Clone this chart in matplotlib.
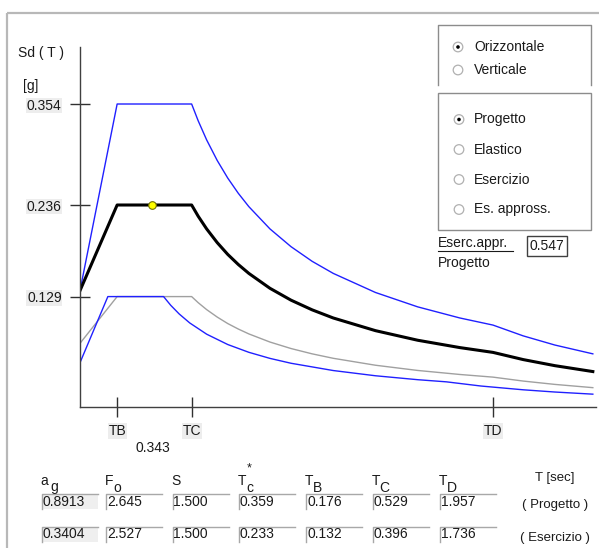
import matplotlib
matplotlib.use('Agg')
import matplotlib.pyplot as plt
from matplotlib.patches import Circle, Rectangle

plt.rcParams['font.family'] = ['Liberation Sans', 'DejaVu Sans']
FS = 10

# ---------------- data ----------------
T_main = [0.0, 0.176, 0.529, 0.56, 0.6, 0.65, 0.7, 0.75, 0.8, 0.9, 1.0, 1.1,
          1.2, 1.4, 1.6, 1.8, 1.957, 2.1, 2.25, 2.43]
Sd_elastic = [0.136, 0.354, 0.354, 0.3344, 0.3121, 0.2881, 0.2675, 0.2497, 0.2341,
              0.2081, 0.1873, 0.1702, 0.1561, 0.1338, 0.1170, 0.1040, 0.0957,
              0.0831, 0.0724, 0.0621]
Sd_design = [0.136, 0.236, 0.236, 0.2229, 0.2081, 0.1921, 0.1783, 0.1665, 0.1561,
             0.1387, 0.1248, 0.1135, 0.1040, 0.0892, 0.0780, 0.0694, 0.0638,
             0.0554, 0.0483, 0.0414]
Sd_approx = [0.0744, 0.129, 0.129, 0.1219, 0.1138, 0.1051, 0.0975, 0.0911, 0.0854,
             0.0759, 0.0683, 0.0621, 0.0569, 0.0488, 0.0427, 0.0380, 0.0349,
             0.0303, 0.0264, 0.0226]
T_service = [0.0, 0.132, 0.396, 0.43, 0.47, 0.52, 0.6, 0.7, 0.8, 0.9, 1.0, 1.2,
             1.4, 1.6, 1.736, 1.9, 2.1, 2.25, 2.43]
Sd_service = [0.0518, 0.129, 0.129, 0.1188, 0.1087, 0.0982, 0.0851, 0.0730, 0.0639,
              0.0568, 0.0511, 0.0426, 0.0365, 0.0319, 0.0294, 0.0245, 0.0201,
              0.0175, 0.0150]

T_point = 0.343
Sd_point = 0.236

y_ticks = [0.354, 0.236, 0.129]
y_tick_labels = ['0.354', '0.236', '0.129']
x_ticks = [0.176, 0.529, 1.957]
x_tick_labels = ['TB', 'TC', 'TD']

param_names = [('a', 'g'), ('F', 'o'), ('S', ''), ('T', 'c'), ('T', 'B'), ('T', 'C'), ('T', 'D')]
row_progetto = ['0.8913', '2.645', '1.500', '0.359', '0.176', '0.529', '1.957']
row_esercizio = ['0.3404', '2.527', '1.500', '0.233', '0.132', '0.396', '1.736']

radio_group1 = ['Orizzontale', 'Verticale']
radio_group2 = ['Progetto', 'Elastico', 'Esercizio', 'Es. appross.']
ratio_value = '0.547'

# ---------------- figure ----------------
W, H = 599, 548
fig = plt.figure(figsize=(W / 100, H / 100), dpi=100)
fig.patch.set_facecolor('white')

bg = fig.add_axes([0, 0, 1, 1])
bg.set_xlim(0, W)
bg.set_ylim(H, 0)
bg.axis('off')

LBL_BG = '#ededed'
TXT = '#1a1a1a'

# outer frame
bg.plot([7, 7], [13, H], color='#b8b8b8', lw=1.6, solid_capstyle='butt')
bg.plot([7, W], [13, 13], color='#b8b8b8', lw=1.6, solid_capstyle='butt')

# chart axes
x0, x1, ytop, ybot = 80, 596, 47, 407
ax = fig.add_axes([x0 / W, (H - ybot) / H, (x1 - x0) / W, (ybot - ytop) / H])
ax.patch.set_alpha(0)
ax.set_xlim(0, 2.445)
ax.set_ylim(0, 0.4206)
for s in ['top', 'right']:
    ax.spines[s].set_visible(False)
for s in ['left', 'bottom']:
    ax.spines[s].set_color('#404040')
    ax.spines[s].set_linewidth(1.0)

ax.plot(T_main, Sd_elastic, color='#2020ff', lw=1.0)
ax.plot(T_main, Sd_approx, color='#a0a0a0', lw=1.0)
ax.plot(T_service, Sd_service, color='#2020ff', lw=1.0)
ax.plot(T_main, Sd_design, color='black', lw=2.2)
ax.plot([T_point], [Sd_point], marker='o', ms=5.5, mfc='#ffff00', mec='#707000', mew=0.8, zorder=5)

ax.set_yticks(y_ticks)
ax.set_yticklabels(y_tick_labels)
ax.set_xticks(x_ticks)
ax.set_xticklabels(x_tick_labels)
ax.tick_params(axis='both', direction='inout', length=14.4, width=1.0, color='#303030',
               labelsize=FS, labelcolor=TXT)
ax.tick_params(axis='y', pad=6.0)
ax.tick_params(axis='x', pad=5.0)
for lbl in ax.get_yticklabels() + ax.get_xticklabels():
    lbl.set_bbox(dict(facecolor=LBL_BG, edgecolor='none', pad=0.5))

ax.annotate('0.343', xy=(T_point, 0), xycoords='data', xytext=(0, -41),
            textcoords='offset pixels', ha='center', va='center', fontsize=FS, color=TXT)

# axis labels
bg.text(18, 53, 'Sd ( T )', fontsize=FS, ha='left', va='center', color=TXT)
bg.text(23, 86, '[g]', fontsize=FS, ha='left', va='center', color=TXT)

# ---------------- right panel ----------------
frame_c = '#8c8c8c'
bg.plot([438, 438, 591, 591], [85, 25, 25, 85], color=frame_c, lw=1.0)
bg.add_patch(Rectangle((438, 92.5), 153, 137.5, fill=False, ec=frame_c, lw=1.0))


def radio(x, y, selected):
    bg.add_patch(Circle((x, y), 4.8, fc='white', ec='#b0b0b0', lw=0.9))
    if selected:
        bg.add_patch(Circle((x, y), 1.8, fc='black', ec='none'))


for i, name in enumerate(radio_group1):
    y = 47 + i * 23
    radio(458, y, i == 0)
    bg.text(474, y, name, fontsize=FS, ha='left', va='center', color=TXT)

for i, name in enumerate(radio_group2):
    y = 119.5 + i * 30
    radio(459, y, i == 0)
    bg.text(474, y, name, fontsize=FS, ha='left', va='center', color=TXT)

bg.text(438, 243, 'Eserc.appr.', fontsize=FS, ha='left', va='center', color=TXT)
bg.plot([438, 513], [250.5, 250.5], color=TXT, lw=0.8)
bg.text(438, 263, 'Progetto', fontsize=FS, ha='left', va='center', color=TXT)
bg.add_patch(Rectangle((527, 236), 40, 20, fill=False, ec='#404040', lw=1.0))
bg.text(529.5, 246, ratio_value, fontsize=FS, ha='left', va='center', color=TXT)

# ---------------- parameter table ----------------
col_x = [41.5, 106, 172.5, 239, 306, 372.5, 440]
box_w = 56
rows = [(row_progetto, 493.5, '( Progetto )'), (row_esercizio, 526.5, '( Esercizio )')]

for (main, sub), cx in zip(param_names, col_x):
    bg.text(cx - 1, 481, main, fontsize=FS, ha='left', va='center', color=TXT)
    if sub:
        off = 10 if main == 'a' else 8
        bg.text(cx - 1 + off, 487.5, sub, fontsize=FS, ha='left', va='center', color=TXT)
    if main == 'T' and sub == 'c':
        bg.text(cx + 7.5, 468.5, '*', fontsize=FS - 1, ha='left', va='center', color=TXT)

for vals, ytop_box, tag in rows:
    for j, (v, cx) in enumerate(zip(vals, col_x)):
        if j == 0:
            bg.add_patch(Rectangle((cx, ytop_box), box_w, 15, fc='#efefef', ec='none'))
        bg.plot([cx, cx, cx + box_w], [ytop_box + 15, ytop_box, ytop_box], color='#a8a8a8', lw=1.0)
        bg.text(cx + 1, ytop_box + 8, v, fontsize=FS, ha='left', va='center', color=TXT)
    bg.text(555, ytop_box + 11.5, tag, fontsize=FS - 0.5, ha='center', va='center', color=TXT)

bg.text(555, 478, 'T [sec]', fontsize=FS - 0.5, ha='center', va='center', color=TXT)

fig.savefig('out.png', dpi=100)
